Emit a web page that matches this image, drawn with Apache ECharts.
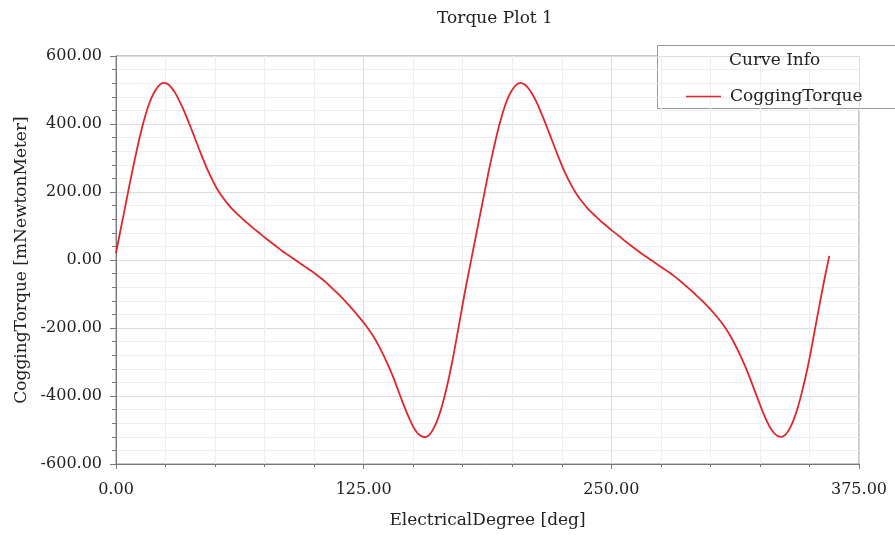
<!DOCTYPE html>
<html>
<head>
<meta charset="utf-8">
<script src="https://cdn.jsdelivr.net/npm/echarts@6/dist/echarts.min.js"></script>
<style>
html,body{margin:0;padding:0;background:#fff;}
#main{width:895px;height:537px;}
</style>
</head>
<body>
<div id="main"></div>
<script>
const titleText = 'Torque Plot 1';
const xName = 'ElectricalDegree [deg]';
const yName = 'CoggingTorque [mNewtonMeter]';
const seriesName = 'CoggingTorque';
const legendTitle = 'Curve Info';

// electrical degree (every 2 deg, 0..360)
const degrees = [
  0,2,4,6,8,10,12,14,16,18,20,22,24,26,28,30,32,34,36,38,40,42,44,46,48,50,52,54,56,58,
  60,62,64,66,68,70,72,74,76,78,80,82,84,86,88,90,92,94,96,98,100,102,104,106,108,110,112,114,116,118,
  120,122,124,126,128,130,132,134,136,138,140,142,144,146,148,150,152,154,156,158,160,162,164,166,168,170,172,174,176,178,
  180,182,184,186,188,190,192,194,196,198,200,202,204,206,208,210,212,214,216,218,220,222,224,226,228,230,232,234,236,238,
  240,242,244,246,248,250,252,254,256,258,260,262,264,266,268,270,272,274,276,278,280,282,284,286,288,290,292,294,296,298,
  300,302,304,306,308,310,312,314,316,318,320,322,324,326,328,330,332,334,336,338,340,342,344,346,348,350,352,354,356,358,360];
// cogging torque [mNewtonMeter]
const torque = [
  20,80,138,197,255,310,362,408,447,478,500,515,521,518,507,490,468,443,415,386,356,325,296,268,243,220,200,183,168,154,
  142,131,120,110,100,90,81,71,62,53,44,35,26,18,10,2,-6,-14,-22,-30,-38,-47,-56,-66,-77,-88,-99,-111,-123,-136,
  -149,-163,-177,-192,-208,-226,-246,-268,-292,-318,-346,-377,-408,-438,-466,-490,-508,-518,-521,-515,-499,-474,-440,-397,-347,-290,-227,-162,-97,-37,
  22,81,140,199,258,312,363,409,448,479,501,515,521,517,506,489,467,441,413,383,353,322,293,265,240,218,198,181,166,152,
  140,129,118,108,98,88,79,70,60,51,42,33,24,16,8,0,-8,-16,-24,-32,-40,-49,-58,-68,-78,-88,-99,-110,-121,-133,
  -145,-158,-172,-187,-204,-223,-244,-267,-292,-319,-348,-379,-410,-440,-468,-491,-508,-518,-520,-513,-496,-470,-436,-393,-345,-290,-228,-165,-103,-44,12];

const xTicks = [0,125,250,375];
const yTicks = [-600,-400,-200,0,200,400,600];

const font = '"DejaVu Serif", serif';
const fs = 16;
const fsBig = 17;
const chart = echarts.init(document.getElementById('main'), null, {renderer:'canvas'});
chart.setOption({
  backgroundColor:'#fff',
  animation:false,
  title:{text:titleText,left:490,textAlign:'center',top:5,textStyle:{fontFamily:font,fontSize:fsBig,fontWeight:'normal',color:'#222'}},
  grid:{left:116,right:36,top:56,bottom:73,show:true,borderColor:'#8a8a8a',borderWidth:1,backgroundColor:'transparent'},
  legend:{left:681,top:83,itemWidth:35,itemHeight:1.5,itemGap:10,icon:'rect',
    textStyle:{fontFamily:font,fontSize:fsBig,color:'#222',padding:[0,0,0,4]},data:[seriesName]},
  graphic:[
    {type:'rect',shape:{x:657.5,y:45.5,width:260,height:63},style:{fill:'#fff',stroke:'#999',lineWidth:1},z:0,zlevel:0},
    {type:'text',left:729,top:52,style:{text:legendTitle,font:fsBig+'px '+font,fill:'#222'},z:1}
  ],
  xAxis:{type:'value',min:xTicks[0],max:xTicks[xTicks.length-1],interval:125,
    name:xName,nameLocation:'middle',nameGap:48,nameTextStyle:{fontFamily:font,fontSize:fsBig,color:'#222'},
    axisLine:{show:true,onZero:false,lineStyle:{color:'#777'}},
    axisTick:{show:true,length:5,lineStyle:{color:'#777'}},
    minorTick:{show:true,splitNumber:5,length:3,lineStyle:{color:'#777'}},
    axisLabel:{fontFamily:font,fontSize:fs,color:'#222',margin:18,formatter:v=>v.toFixed(2)},
    splitLine:{show:true,lineStyle:{color:'#dcdcdc'}},
    minorSplitLine:{show:true,lineStyle:{color:'#eeeeee'}}
  },
  yAxis:{type:'value',min:yTicks[0],max:yTicks[yTicks.length-1],interval:200,
    name:yName,nameLocation:'middle',nameGap:86,nameTextStyle:{fontFamily:font,fontSize:fsBig,color:'#222'},
    axisLine:{show:true,onZero:false,lineStyle:{color:'#777'}},
    axisTick:{show:true,length:6,lineStyle:{color:'#777'}},
    minorTick:{show:true,splitNumber:5,length:4,lineStyle:{color:'#777'}},
    axisLabel:{fontFamily:font,fontSize:fs,color:'#222',margin:14,formatter:v=>v.toFixed(2)},
    splitLine:{show:true,lineStyle:{color:'#dcdcdc'}},
    minorSplitLine:{show:true,lineStyle:{color:'#eeeeee'}}
  },
  series:[{name:seriesName,type:'line',data:degrees.map((d,i)=>[d,torque[i]]),
    smooth:0.2,symbol:'none',lineStyle:{color:'#e2262b',width:1.8},itemStyle:{color:'#e2262b'},z:5}]
});
</script>
</body>
</html>
